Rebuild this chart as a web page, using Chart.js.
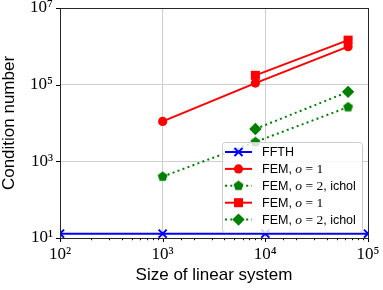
<!DOCTYPE html>
<html><head><meta charset="utf-8">
<script src="https://cdn.jsdelivr.net/npm/chart.js@4/dist/chart.umd.min.js"></script>
<style>html,body{margin:0;padding:0;background:#fff}canvas{display:block}</style>
</head><body>
<canvas id="c" width="383" height="290"></canvas>
<script>
// ---- data ----
const ffthSizes = [100, 1000, 10000, 100000];
const ffthCond = [13, 13, 13, 13];
const femSizes = [1000, 8000, 64000];
const femO1Circle = [11000, 110000, 980000];
const femO2Pent = [400, 3200, 26000];
const femSizesB = [8000, 64000];
const femO1Square = [175000, 1450000];
const femO2Diamond = [7000, 65000];
const xTickDecades = [100, 1000, 10000, 100000];
const yTickDecades = [10, 1000, 100000, 10000000];
const xTitle = 'Size of linear system';
const yTitle = 'Condition number';
const seriesLabels = [
  [['FFTH', 's']],
  [['FEM, ', 's'], ['o', 'mi'], [' = 1', 'm']],
  [['FEM, ', 's'], ['o', 'mi'], [' = 2', 'm'], [', ichol', 's']],
  [['FEM, ', 's'], ['o', 'mi'], [' = 1', 'm']],
  [['FEM, ', 's'], ['o', 'mi'], [' = 2', 'm'], [', ichol', 's']]
];

const SUP = {'0':'⁰','1':'¹','2':'²','3':'³','4':'⁴','5':'⁵','6':'⁶','7':'⁷','8':'⁸','9':'⁹'};
function pow10Label(v) {
  const e = Math.round(Math.log10(v));
  if (Math.abs(Math.pow(10, e) - v) > 1e-6 * v) return '';
  return '10' + String(e).split('').map(c => SUP[c]).join('');
}
function pts(xs, ys) { return xs.map((x, i) => ({x: x, y: ys[i]})); }

function makePentagon(r, color) {
  const cv = document.createElement('canvas');
  const s = Math.ceil(2 * r + 2);
  cv.width = s; cv.height = s;
  const g = cv.getContext('2d');
  g.fillStyle = color;
  g.beginPath();
  for (let i = 0; i < 5; i++) {
    const a = -Math.PI / 2 + i * 2 * Math.PI / 5;
    const px = s / 2 + r * Math.cos(a), py = s / 2 + r * Math.sin(a);
    if (i === 0) g.moveTo(px, py); else g.lineTo(px, py);
  }
  g.closePath(); g.fill();
  return cv;
}
const pent = makePentagon(5.2, '#008000');

const RED = '#ff0000', GREEN = '#008000', BLUE = '#0000ff';
const DOT = [2, 3.3];

const datasets = [
  {data: pts(ffthSizes, ffthCond), borderColor: BLUE, backgroundColor: BLUE, pointStyle: 'crossRot', pointRadius: 5.7, pointBorderWidth: 2, borderWidth: 2},
  {data: pts(femSizes, femO1Circle), borderColor: RED, backgroundColor: RED, pointStyle: 'circle', pointRadius: 4.6, pointBorderWidth: 0, borderWidth: 2},
  {data: pts(femSizes, femO2Pent), borderColor: GREEN, backgroundColor: GREEN, pointStyle: pent, pointRadius: 5, borderWidth: 2, borderDash: DOT},
  {data: pts(femSizesB, femO1Square), borderColor: RED, backgroundColor: RED, pointStyle: 'rect', pointRadius: 6.4, pointBorderWidth: 0, borderWidth: 2},
  {data: pts(femSizesB, femO2Diamond), borderColor: GREEN, backgroundColor: GREEN, pointStyle: 'rectRot', pointRadius: 6.2, pointBorderWidth: 0, borderWidth: 2, borderDash: DOT}
].map(d => Object.assign({clip: 0, tension: 0, fill: false, pointHoverRadius: d.pointRadius}, d));

const frameAndTicks = {
  id: 'frameAndTicks',
  afterDatasetsDraw(chart) {
    const ctx = chart.ctx, a = chart.chartArea;
    ctx.save();
    ctx.strokeStyle = '#000';
    ctx.lineWidth = 1;
    const xs = chart.scales.x, ys = chart.scales.y;
    xs.ticks.forEach(t => {
      const major = pow10Label(t.value) !== '';
      const px = Math.round(xs.getPixelForValue(t.value)) + 0.5;
      ctx.beginPath(); ctx.moveTo(px, a.bottom); ctx.lineTo(px, a.bottom + (major ? 4 : 2.2)); ctx.stroke();
    });
    ys.ticks.forEach(t => {
      const py = Math.round(ys.getPixelForValue(t.value)) + 0.5;
      ctx.beginPath(); ctx.moveTo(a.left, py); ctx.lineTo(a.left - 4, py); ctx.stroke();
    });
    ctx.strokeStyle = '#262626';
    ctx.strokeRect(Math.round(a.left) + 0.5, Math.round(a.top) + 0.5, Math.round(a.right - a.left), Math.round(a.bottom - a.top));
    ctx.restore();
  }
};

const legendPlugin = {
  id: 'floatLegend',
  afterDraw(chart) {
    const ctx = chart.ctx;
    const bx = 222.5, by = 142.5, bw = 140, bh = 90, r = 3;
    ctx.save();
    ctx.beginPath();
    ctx.moveTo(bx + r, by); ctx.lineTo(bx + bw - r, by); ctx.arcTo(bx + bw, by, bx + bw, by + r, r);
    ctx.lineTo(bx + bw, by + bh - r); ctx.arcTo(bx + bw, by + bh, bx + bw - r, by + bh, r);
    ctx.lineTo(bx + r, by + bh); ctx.arcTo(bx, by + bh, bx, by + bh - r, r);
    ctx.lineTo(bx, by + r); ctx.arcTo(bx, by, bx + r, by, r); ctx.closePath();
    ctx.fillStyle = 'rgba(255,255,255,0.8)'; ctx.fill();
    ctx.strokeStyle = '#cccccc'; ctx.lineWidth = 1; ctx.stroke();
    const fonts = {s: '12.5px "Liberation Sans"', mi: 'italic 13.5px "Liberation Serif"', m: '13.5px "Liberation Serif"'};
    chart.data.datasets.forEach((ds, i) => {
      const y = 152 + i * 16.9;
      ctx.save();
      ctx.strokeStyle = ds.borderColor; ctx.lineWidth = ds.borderWidth;
      ctx.setLineDash(ds.borderDash || []);
      ctx.beginPath(); ctx.moveTo(225, y); ctx.lineTo(252, y); ctx.stroke();
      ctx.setLineDash([]);
      ctx.fillStyle = ds.backgroundColor; ctx.strokeStyle = ds.borderColor;
      ctx.lineWidth = ds.pointBorderWidth || 0;
      if (ds.pointStyle === 'crossRot') {
        const h = ds.pointRadius * Math.SQRT1_2;
        ctx.beginPath(); ctx.moveTo(238.5 - h, y - h); ctx.lineTo(238.5 + h, y + h);
        ctx.moveTo(238.5 - h, y + h); ctx.lineTo(238.5 + h, y - h); ctx.stroke();
      } else {
        Chart.helpers.drawPoint(ctx, {pointStyle: ds.pointStyle, radius: ds.pointRadius, borderWidth: 0, rotation: 0}, 238.5, y);
      }
      ctx.restore();
      let x = 262;
      ctx.fillStyle = '#000'; ctx.textBaseline = 'middle'; ctx.textAlign = 'left';
      seriesLabels[i].forEach(([txt, f]) => {
        ctx.font = fonts[f];
        ctx.fillText(txt, x, y + 0.5);
        x += ctx.measureText(txt).width;
      });
    });
    ctx.restore();
  }
};

new Chart(document.getElementById('c'), {
  type: 'line',
  data: {datasets: datasets},
  options: {
    responsive: false,
    animation: false,
    devicePixelRatio: 1,
    events: [],
    layout: {padding: {top: 8, right: 15, left: 0, bottom: 0}},
    plugins: {legend: {display: false}, tooltip: {enabled: false}},
    elements: {line: {borderCapStyle: 'butt'}},
    scales: {
      x: {
        type: 'logarithmic', min: 100, max: 100000, position: 'bottom',
        border: {display: false},
        grid: {
          drawTicks: false,
          lineWidth: 1,
          color: c => (c.tick && xTickDecades.slice(1, -1).includes(c.tick.value)) ? '#cfcfcf' : 'rgba(0,0,0,0)'
        },
        ticks: {
          autoSkip: false, maxRotation: 0, minRotation: 0, padding: 6, color: '#000',
          font: {family: '"Liberation Serif"', size: 17},
          callback: v => pow10Label(v)
        },
        title: {display: true, text: xTitle, color: '#000', font: {family: '"Liberation Sans"', size: 17, lineHeight: 1.2}, padding: {top: 0, bottom: 4}},
        afterFit: s => { s.height = 52; s.paddingLeft = 0; s.paddingRight = 0; }
      },
      y: {
        type: 'logarithmic', min: 10, max: 10000000, position: 'left',
        border: {display: false},
        afterBuildTicks: s => { s.ticks = yTickDecades.map(v => ({value: v, major: true})); },
        grid: {
          drawTicks: false,
          lineWidth: 1,
          color: c => (c.tick && yTickDecades.slice(1, -1).includes(c.tick.value)) ? '#cfcfcf' : 'rgba(0,0,0,0)'
        },
        ticks: {
          padding: 7, color: '#000',
          font: {family: '"Liberation Serif"', size: 17},
          callback: v => pow10Label(v)
        },
        title: {display: true, text: yTitle, color: '#000', font: {family: '"Liberation Sans"', size: 17, lineHeight: 1.1}, padding: {top: 0, bottom: 0}},
        afterFit: s => { s.width = 60; s.paddingTop = 0; s.paddingBottom = 0; }
      }
    }
  },
  plugins: [frameAndTicks, legendPlugin]
});
</script>
</body></html>
